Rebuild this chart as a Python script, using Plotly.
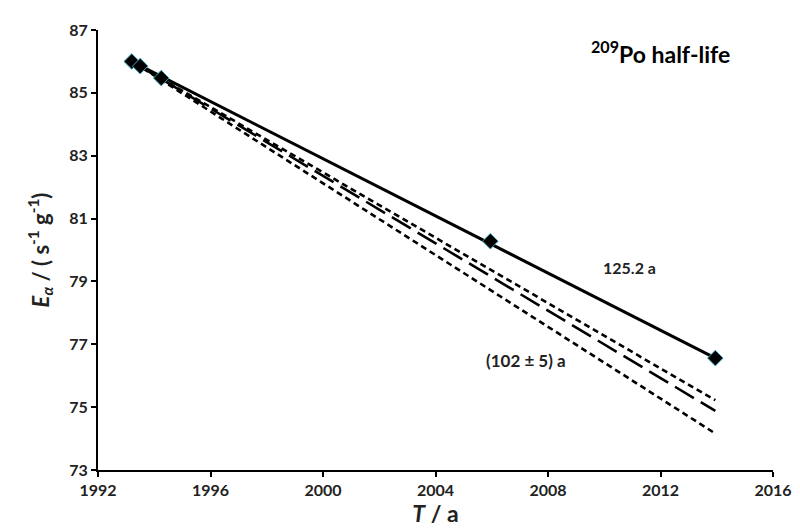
import plotly.graph_objects as go

# measured points
years = [1993.2, 1993.5, 1994.25, 2005.95, 2013.95]
activity = [86.0, 85.85, 85.47, 80.28, 76.56]

# fit line endpoints
fit_x = [1993.2, 2013.95]
fit_125 = [86.0, 76.56]
dash_x = [1993.3, 2013.95]
dash_upper = [85.95, 75.22]
dash_mid = [85.95, 74.88]
dash_lower = [85.95, 74.16]

xticks = [1992, 1996, 2000, 2004, 2008, 2012, 2016]
yticks = [73, 75, 77, 79, 81, 83, 85, 87]

font = "Lato"
fig = go.Figure()
fig.add_trace(go.Scatter(x=dash_x, y=dash_upper, mode="lines",
                         line=dict(color="black", width=2.6, dash="6px,4px")))
fig.add_trace(go.Scatter(x=dash_x, y=dash_mid, mode="lines",
                         line=dict(color="black", width=2.6, dash="22px,8px")))
fig.add_trace(go.Scatter(x=dash_x, y=dash_lower, mode="lines",
                         line=dict(color="black", width=2.6, dash="6px,4px")))
fig.add_trace(go.Scatter(x=fit_x, y=fit_125, mode="lines",
                         line=dict(color="black", width=3)))
fig.add_trace(go.Scatter(x=years, y=activity, mode="markers",
                         marker=dict(symbol="diamond", size=12, color="black",
                                     line=dict(color="#3aa6b8", width=1))))

fig.add_annotation(x=2012.0, y=86.3, text="<sup>209</sup>Po half-life", showarrow=False,
                   font=dict(family=font, size=23, color="black", weight="bold"))
fig.add_annotation(x=2010.9, y=79.45, text="125.2 a", showarrow=False,
                   font=dict(family=font, size=16, color="#222", weight="bold"))
fig.add_annotation(x=2007.2, y=76.5, text="(102 ± 5) a", showarrow=False,
                   font=dict(family=font, size=17, color="#222", weight="bold"))

axis_common = dict(showgrid=False, zeroline=False, showline=True, linecolor="black",
                   linewidth=2, ticks="outside", ticklen=5, tickwidth=2, tickcolor="black",
                   tickfont=dict(family=font, size=16, color="#222", weight="bold"))
fig.update_xaxes(range=[1992, 2016], tickvals=xticks, **axis_common,
                 title=dict(text="<i>T</i> / a", standoff=0,
                            font=dict(family=font, size=23, color="#222", weight="bold")))
fig.update_yaxes(range=[73, 87], tickvals=yticks, **axis_common,
                 title=dict(text="<i>E</i><sub><i>α</i></sub> / ( s<sup>-1</sup> g<sup>-1</sup>)",
                            standoff=14,
                            font=dict(family=font, size=22, color="#222", weight="bold")))
fig.update_layout(width=800, height=529, showlegend=False,
                  plot_bgcolor="white", paper_bgcolor="white",
                  margin=dict(l=90, r=35, t=20, b=67))
fig.write_html("out.html")
